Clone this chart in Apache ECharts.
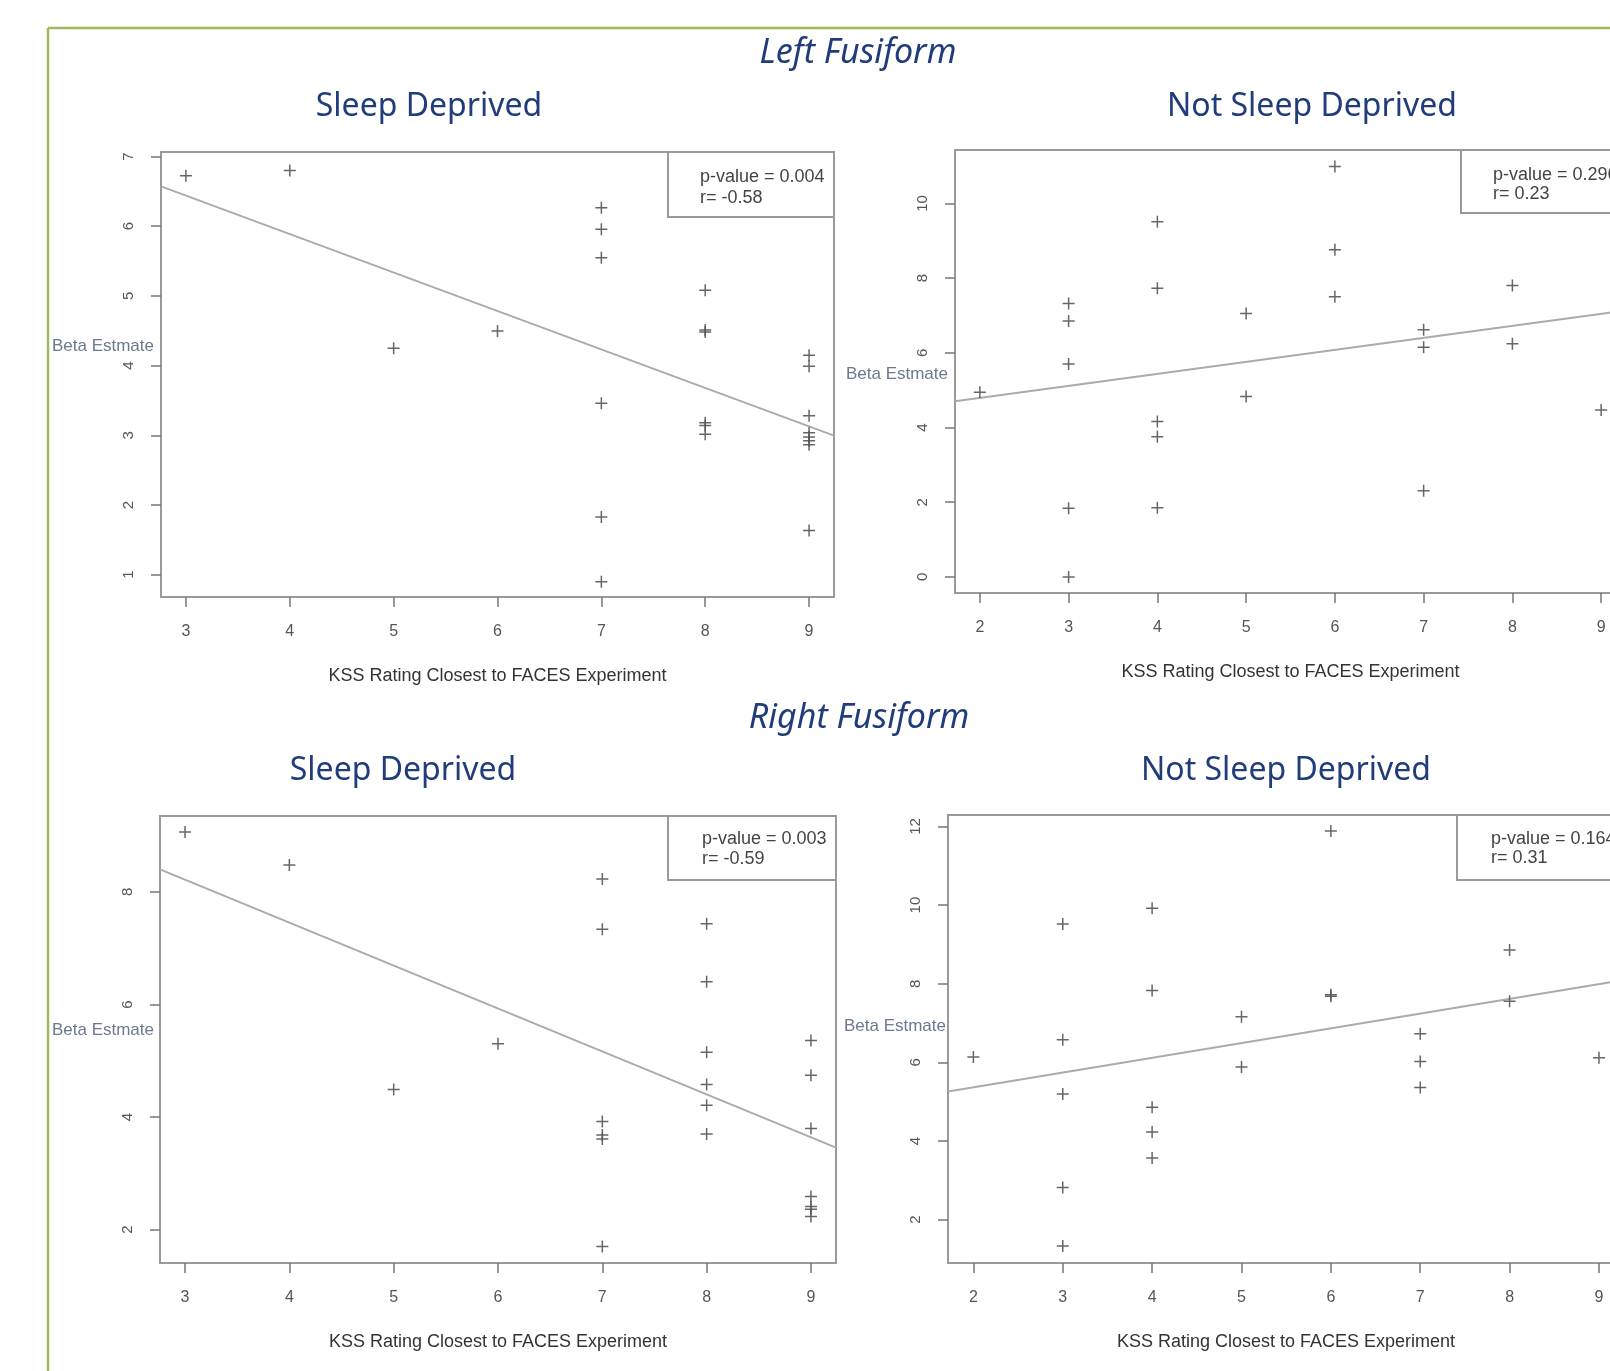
<!DOCTYPE html>
<html>
<head>
<meta charset="utf-8">
<script src="https://cdn.jsdelivr.net/npm/echarts@6/dist/echarts.min.js"></script>
<style>
html,body{margin:0;padding:0;overflow:hidden;background:#fff;width:1610px;height:1371px;}
#chart{width:1650px;height:1371px;}
</style>
</head>
<body>
<div id="chart"></div>
<script>
// ---------- Data ----------
// Left Fusiform, Sleep Deprived
const lfSdX = [3, 4, 5, 6, 7, 7, 7, 7, 7, 7, 8, 8, 8, 8, 8, 8, 9, 9, 9, 9, 9, 9, 9, 9];
const lfSdY = [6.725, 6.80, 4.247, 4.496, 6.264, 5.956, 5.546, 3.459, 1.826, 0.898,
               5.082, 4.51, 4.48, 3.18, 3.14, 3.016,
               4.149, 3.99, 3.279, 3.035, 2.977, 2.92, 2.863, 1.634];
// Left Fusiform, Not Sleep Deprived
const lfNsdX = [2, 3, 3, 3, 3, 3, 4, 4, 4, 4, 4, 5, 5, 6, 6, 6, 7, 7, 7, 8, 8, 9];
const lfNsdY = [4.946, 7.32, 6.85, 5.70, 1.84, 0.0, 9.51, 7.73, 4.16, 3.75, 1.85,
                7.05, 4.83, 10.99, 8.76, 7.50, 6.62, 6.15, 2.31, 7.80, 6.24, 4.47];
// Right Fusiform, Sleep Deprived
const rfSdX = [3, 4, 5, 6, 7, 7, 7, 7, 7, 7, 8, 8, 8, 8, 8, 8, 9, 9, 9, 9, 9, 9, 9];
const rfSdY = [9.064, 8.478, 4.491, 5.30, 8.23, 7.337, 3.92, 3.68, 3.61, 1.70,
               7.437, 6.404, 5.153, 4.578, 4.21, 3.696,
               5.359, 4.744, 3.796, 2.588, 2.41, 2.36, 2.233];
// Right Fusiform, Not Sleep Deprived
const rfNsdX = [2, 3, 3, 3, 3, 3, 4, 4, 4, 4, 4, 5, 5, 6, 6, 6, 7, 7, 7, 8, 8, 9];
const rfNsdY = [6.135, 9.52, 6.575, 5.197, 2.816, 1.328, 9.916, 7.83, 4.856, 4.227, 3.566,
                7.16, 5.88, 11.88, 7.72, 7.68, 6.73, 6.024, 5.36, 8.858, 7.557, 6.12];

// Fitted lines (end points at the plot edges)
const lfSdFit  = [[2.76, 6.57], [9.24, 2.995]];
const lfNsdFit = [[1.72, 4.705], [9.28, 7.13]];
const rfSdFit  = [[2.76, 8.40], [9.24, 3.455]];
const rfNsdFit = [[1.716, 5.26], [9.28, 8.096]];

// Axis limits and ticks
const lfSdXLim = [2.76, 9.24],  lfSdYLim = [0.68, 7.064];
const lfNsdXLim = [1.72, 9.28], lfNsdYLim = [-0.43, 11.43];
const rfSdXLim = [2.76, 9.24],  rfSdYLim = [1.405, 9.35];
const rfNsdXLim = [1.716, 9.28], rfNsdYLim = [0.898, 12.29];
const sdXTicks = [3, 4, 5, 6, 7, 8, 9];
const nsdXTicks = [2, 3, 4, 5, 6, 7, 8, 9];
const lfSdYTicks = [1, 2, 3, 4, 5, 6, 7];
const lfNsdYTicks = [0, 2, 4, 6, 8, 10];
const rfSdYTicks = [2, 4, 6, 8];
const rfNsdYTicks = [2, 4, 6, 8, 10, 12];

// Text
const mainTitles = ['Left Fusiform', 'Right Fusiform'];
const panelTitles = ['Sleep Deprived', 'Not Sleep Deprived'];
const xName = 'KSS Rating Closest to FACES Experiment';
const yName = 'Beta Estmate';
const statsText = [
  ['p-value = 0.004', 'r= -0.58'],
  ['p-value = 0.296', 'r= 0.23'],
  ['p-value = 0.003', 'r= -0.59'],
  ['p-value = 0.164', 'r= 0.31']
];

// ---------- Chart ----------
const zip = (xs, ys) => xs.map((x, i) => [x, ys[i]]);
const plus = 'path://M7,0H9V7H16V9H9V16H7V9H0V7H7Z';
const labelFont = 'Liberation Sans';
const gray = '#555';

const grids = [
  {left: 161, top: 152, width: 673, height: 445},
  {left: 955, top: 150, width: 671, height: 443},
  {left: 160, top: 816, width: 676, height: 447},
  {left: 948, top: 815, width: 676, height: 448}
];
const panels = [
  {xs: lfSdX, ys: lfSdY, fit: lfSdFit, xl: lfSdXLim, yl: lfSdYLim, xt: sdXTicks, yt: lfSdYTicks},
  {xs: lfNsdX, ys: lfNsdY, fit: lfNsdFit, xl: lfNsdXLim, yl: lfNsdYLim, xt: nsdXTicks, yt: lfNsdYTicks},
  {xs: rfSdX, ys: rfSdY, fit: rfSdFit, xl: rfSdXLim, yl: rfSdYLim, xt: sdXTicks, yt: rfSdYTicks},
  {xs: rfNsdX, ys: rfNsdY, fit: rfNsdFit, xl: rfNsdXLim, yl: rfNsdYLim, xt: nsdXTicks, yt: rfNsdYTicks}
];

const option = {
  animation: false,
  backgroundColor: '#fff',
  grid: grids.map(g => Object.assign({show: true, borderColor: '#9a9a9a', borderWidth: 2, backgroundColor: '#fff'}, g)),
  xAxis: panels.map((p, i) => ({
    type: 'value', gridIndex: i, min: p.xl[0], max: p.xl[1], position: 'bottom',
    axisLine: {show: false, onZero: false},
    splitLine: {show: false},
    axisTick: {show: true, length: 10, customValues: p.xt, lineStyle: {color: '#777', width: 1.5}},
    axisLabel: {customValues: p.xt, margin: 35, verticalAlign: 'middle', fontFamily: labelFont, fontSize: 16, color: gray},
    name: xName, nameLocation: 'middle', nameGap: 79,
    nameTextStyle: {fontFamily: labelFont, fontSize: 18, color: '#333', verticalAlign: 'middle'}
  })),
  yAxis: panels.map((p, i) => ({
    type: 'value', gridIndex: i, min: p.yl[0], max: p.yl[1], position: 'left',
    axisLine: {show: false, onZero: false},
    splitLine: {show: false},
    axisTick: {show: true, length: 10, customValues: p.yt, lineStyle: {color: '#777', width: 1.5}},
    axisLabel: {customValues: p.yt, rotate: 90, margin: 32, verticalAlign: 'middle', align: 'center', fontFamily: labelFont, fontSize: 15, color: gray}
  })),
  series: [].concat(...panels.map((p, i) => [
    {
      type: 'line', xAxisIndex: i, yAxisIndex: i, data: p.fit, symbol: 'none', silent: true,
      lineStyle: {color: '#ababab', width: 2}, z: 2
    },
    {
      type: 'scatter', xAxisIndex: i, yAxisIndex: i, data: zip(p.xs, p.ys),
      symbol: plus, symbolSize: 12, itemStyle: {color: gray, opacity: 0.9}, z: 3
    }
  ])),
  graphic: []
};

const g = option.graphic;
// outer green frame
g.push({type: 'line', shape: {x1: 48, y1: 28, x2: 1650, y2: 28}, style: {stroke: '#9bbb59', lineWidth: 2.5}, z: 10});
g.push({type: 'line', shape: {x1: 48, y1: 28, x2: 48, y2: 1371}, style: {stroke: '#9bbb59', lineWidth: 2.5}, z: 10});

const titleFont = '32px "Noto Sans"';
const italicFont = 'italic 34px "Noto Sans"';
const titleColor = '#203c7a';
function addText(text, x, y, font, color, align) {
  g.push({type: 'text', x: x, y: y, z: 20,
    style: {text: text, font: font, fill: color, textAlign: align || 'center', textVerticalAlign: 'middle'}});
}
addText(mainTitles[0], 858, 53, italicFont, titleColor);
addText(mainTitles[1], 859, 718, italicFont, titleColor);
addText(panelTitles[0], 429, 107, titleFont, titleColor);
addText(panelTitles[1], 1312, 107, titleFont, titleColor);
addText(panelTitles[0], 403, 771, titleFont, titleColor);
addText(panelTitles[1], 1286, 771, titleFont, titleColor);

// y axis names
const yNameFont = '17px "Liberation Sans"';
const yNameColor = '#6b7a8f';
addText(yName, 154, 346, yNameFont, yNameColor, 'right');
addText(yName, 948, 374, yNameFont, yNameColor, 'right');
addText(yName, 154, 1030, yNameFont, yNameColor, 'right');
addText(yName, 946, 1026, yNameFont, yNameColor, 'right');

// stats boxes
const boxes = [
  {x: 668, y: 152, w: 166, h: 65, tx: 700, ty: [177, 198]},
  {x: 1461, y: 150, w: 200, h: 63, tx: 1493, ty: [175, 194]},
  {x: 668, y: 816, w: 168, h: 64, tx: 702, ty: [839, 859]},
  {x: 1457, y: 815, w: 200, h: 65, tx: 1491, ty: [839, 858]}
];
boxes.forEach((b, i) => {
  g.push({type: 'rect', shape: {x: b.x, y: b.y, width: b.w, height: b.h}, z: 15,
    style: {fill: '#fff', stroke: '#9a9a9a', lineWidth: 2}});
  addText(statsText[i][0], b.tx, b.ty[0], '18px "Liberation Sans"', '#444', 'left');
  addText(statsText[i][1], b.tx, b.ty[1], '18px "Liberation Sans"', '#444', 'left');
});

const chart = echarts.init(document.getElementById('chart'), null, {renderer: 'canvas'});
chart.setOption(option);
</script>
</body>
</html>
